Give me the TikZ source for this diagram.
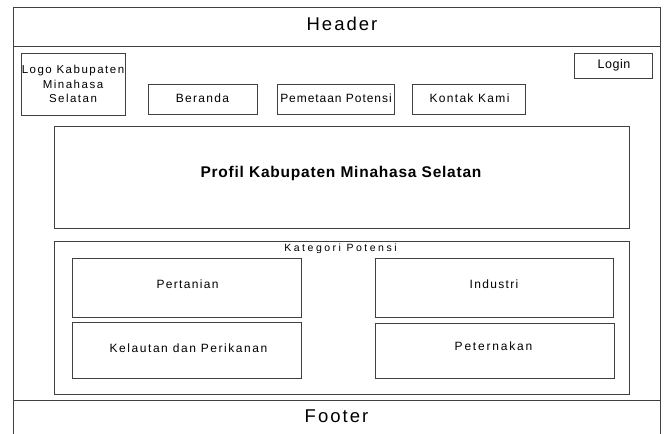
\documentclass[tikz,border=0pt]{standalone}
\usepackage{fontspec}
\setmainfont{Liberation Sans}
\usetikzlibrary{positioning}

\begin{document}
\begin{tikzpicture}[y=-1pt,x=1pt]
	\tikzset{
		box/.style={draw=black!75, line width=0.7pt, inner sep=0pt, align=center},
		lbl/.style={inner sep=0pt, align=center, font=\fontsize{12}{14.3}\selectfont\addfontfeature{LetterSpace=11}},
		title/.style={inner sep=0pt, font=\fontsize{18.5}{20}\selectfont\addfontfeature{LetterSpace=11}},
	}
	\newcommand\Frame[4]{(#1,#2) rectangle (#3,#4)}
	\useasboundingbox (0,0) rectangle (668,433);

	% page frame
	\draw[black!75, line width=0.7pt] \Frame{13}{7}{660}{445};
	\node[box, minimum width=647pt, minimum height=39pt] (header) at (336.5,26.5) {};
	\node[title] (headertext) at (342,24) {Header};
	\node[box, minimum width=647pt, minimum height=40pt, anchor=north] (footer) at (336.5,400) {};
	\node[title] (footertext) at (336.5,416) {Footer};

	% menu
	\node[box, minimum width=104pt, minimum height=62pt] (logo) at (73,84) {};
	\node[lbl, font=\fontsize{11.5}{14.3}\selectfont\addfontfeature{LetterSpace=13}] (logotext) at (73,84) {Logo Kabupaten\\Minahasa\\Selatan};
	\node[box, minimum width=109pt, minimum height=30pt] (beranda) at (202.5,99) {};
	\node[lbl] (berandatext) at (202.5,98) {Beranda};
	\node[box, minimum width=117pt, minimum height=30pt] (pemetaan) at (335.5,99) {};
	\node[lbl, font=\fontsize{12}{14}\selectfont\addfontfeature{LetterSpace=8}] (pemetaantext) at (336,98) {Pemetaan Potensi};
	\node[box, minimum width=78pt, minimum height=25pt] (login) at (613,65.5) {};
	\node[lbl, font=\fontsize{12.5}{14}\selectfont\addfontfeature{LetterSpace=4}] (logintext) at (614,65) {Login};
	\node[box, minimum width=113pt, minimum height=30pt] (kontak) at (468.5,99) {};
	\node[lbl] (kontaktext) at (469.5,98) {Kontak Kami};

	% profil
	\node[box, minimum width=575pt, minimum height=102pt] (profil) at (341.5,177) {};
	\node[lbl, font=\fontsize{15.5}{17}\selectfont\bfseries\addfontfeature{LetterSpace=5}] (profiltext) at (341,173) {Profil Kabupaten Minahasa Selatan};

	% kategori
	\node[box, minimum width=575pt, minimum height=153pt] (kategori) at (341.5,317.5) {};
	\node[lbl, font=\fontsize{10.5}{11}\selectfont\addfontfeature{LetterSpace=24}] (kategoritext) at (340.5,248.5) {Kategori Potensi};
	\node[box, minimum width=229pt, minimum height=59pt] (pertanian) at (186.5,287.5) {};
	\node[lbl] (pertaniantext) at (187.5,284) {Pertanian};
	\node[box, minimum width=229pt, minimum height=56pt] (kelautan) at (186.5,350) {};
	\node[lbl, font=\fontsize{12}{14}\selectfont\addfontfeature{LetterSpace=13}] (kelautantext) at (188.5,348) {Kelautan dan Perikanan};
	\node[box, minimum width=238pt, minimum height=59pt] (industri) at (494,287.5) {};
	\node[lbl] (industritext) at (494,284.5) {Industri};
	\node[box, minimum width=239pt, minimum height=55pt] (peternakan) at (494.5,350.5) {};
	\node[lbl, font=\fontsize{12}{14}\selectfont\addfontfeature{LetterSpace=15}] (peternakantext) at (493.5,346) {Peternakan};
\end{tikzpicture}
\end{document}
